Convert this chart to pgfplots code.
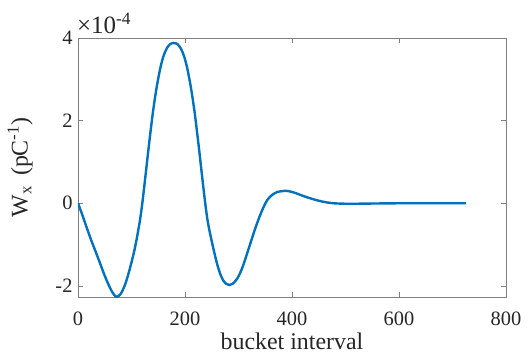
\documentclass[border=0pt]{standalone}
\usepackage{pgfplots}
\pgfplotsset{compat=1.18}
\usepackage{fontspec}
\setmainfont{Liberation Serif}
\definecolor{mblue}{RGB}{0,114,189}
\definecolor{axgray}{RGB}{128,128,128}
\definecolor{txt}{RGB}{38,38,38}
\begin{document}
\begin{tikzpicture}
\begin{axis}[
  scale only axis,
  width=428bp, height=259bp,
  xmin=0, xmax=800,
  ymin=-2.27e-4, ymax=4e-4,
  xtick={0,200,400,600,800},
  ytick={-2e-4,0,2e-4,4e-4},
  scaled y ticks=base 10:4,
  ytick scale label code/.code={×10\textsuperscript{#1}},
  every y tick scale label/.style={at={(rel axis cs:0,1)}, anchor=south west, inner sep=0pt, xshift=1bp, yshift=4bp, font=\fontsize{25}{26}\selectfont, text=txt},
  /pgf/number format/assume math mode=true,
  tick align=inside,
  major tick length=5bp,
  axis line style={axgray, line width=0.6bp},
  every tick/.style={axgray, line width=0.6bp},
  tick label style={font=\fontsize{20.5}{22}\selectfont, text=txt},
  xticklabel style={yshift=-11bp},
  yticklabel style={xshift=-2bp},
  label style={font=\fontsize{24}{26}\selectfont, text=txt},
  xlabel={bucket interval},
  ylabel={W\textsubscript{x}\, (pC\textsuperscript{-1})},
  xlabel style={at={(axis description cs:0.5,-0.17)}, anchor=center},
  ylabel style={at={(axis description cs:-0.135,0.5)}, anchor=center},
]
\addplot[mblue, line width=2.4bp, smooth] coordinates {
(0,0) (8,-0.28e-4) (16,-0.58e-4) (24,-0.87e-4) (32,-1.14e-4) (40,-1.41e-4)
(48,-1.69e-4) (56,-1.94e-4) (64,-2.15e-4) (72,-2.27e-4) (80,-2.19e-4)
(88,-1.97e-4) (96,-1.63e-4) (104,-1.22e-4) (108,-0.98e-4) (112,-0.7e-4)
(116,-0.4e-4) (120,-0.02e-4) (124,0.42e-4) (128,0.88e-4) (132,1.34e-4)
(136,1.78e-4) (140,2.2e-4) (144,2.56e-4) (148,2.88e-4) (154,3.28e-4)
(160,3.57e-4) (166,3.75e-4) (172,3.85e-4) (179,3.88e-4) (186,3.85e-4)
(192,3.75e-4) (198,3.57e-4) (204,3.28e-4) (210,2.88e-4) (214,2.56e-4)
(218,2.2e-4) (222,1.78e-4) (226,1.34e-4) (230,0.88e-4) (234,0.42e-4)
(238,-0.02e-4) (242,-0.4e-4) (246,-0.68e-4) (250,-0.92e-4) (254,-1.15e-4)
(258,-1.37e-4) (262,-1.56e-4) (267,-1.75e-4) (272,-1.88e-4) (277,-1.95e-4)
(283,-1.98e-4) (289,-1.95e-4) (295,-1.87e-4) (300,-1.77e-4) (306,-1.6e-4)
(312,-1.38e-4) (318,-1.14e-4) (324,-0.9e-4) (330,-0.66e-4) (336,-0.44e-4)
(342,-0.24e-4) (348,-0.06e-4) (354,0.08e-4) (360,0.17e-4) (366,0.23e-4)
(372,0.27e-4) (380,0.29e-4) (389,0.3e-4) (398,0.28e-4) (408,0.24e-4)
(420,0.18e-4) (434,0.12e-4) (450,0.06e-4) (465,0.02e-4) (480,-0.003e-4)
(500,-0.012e-4) (520,-0.012e-4) (546,-0.008e-4) (580,-0.003e-4)
(620,0.0) (680,0.0) (725,0.0)
};
\end{axis}
\pgfresetboundingbox
\path[use as bounding box] ([xshift=-78bp,yshift=-59bp]current axis.south west) rectangle ([xshift=23bp,yshift=38bp]current axis.north east);
\end{tikzpicture}
\end{document}
